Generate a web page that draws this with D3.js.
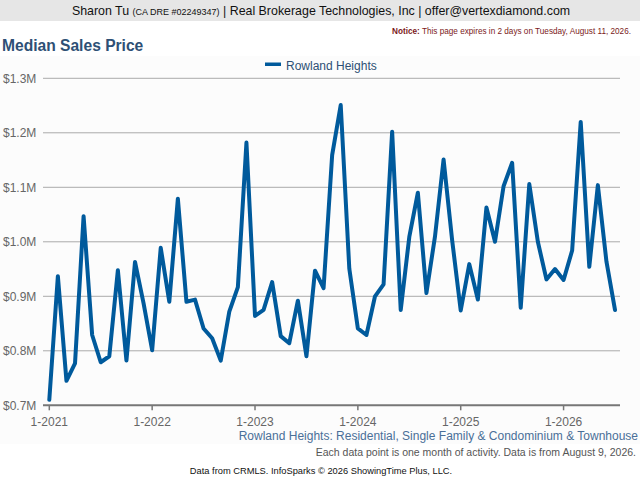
<!DOCTYPE html>
<html>
<head>
<meta charset="utf-8">
<script src="https://d3js.org/d3.v7.min.js"></script>
<style>
  body { margin: 0; background: #fff; }
  svg text { font-family: "Liberation Sans", Arial, sans-serif; }
  .ytick text { fill: #666; font-size: 12px; }
  .xtick text { fill: #666; font-size: 12px; }
</style>
</head>
<body>
<script>
// data: monthly median sales price ($M), 1-2021 .. 7-2026
const startYear = 2021;
const prices = [
  0.710, 0.937, 0.745, 0.777, 1.047, 0.829, 0.779, 0.790, 0.948, 0.782, 0.963, 0.887,
  0.801, 0.989, 0.890, 1.079, 0.890, 0.894, 0.841, 0.823, 0.782, 0.872, 0.917, 1.182,
  0.864, 0.875, 0.926, 0.827, 0.814, 0.892, 0.790, 0.947, 0.915, 1.159, 1.251, 0.951,
  0.841, 0.829, 0.900, 0.922, 1.202, 0.875, 1.009, 1.090, 0.906, 1.010, 1.151, 1.003,
  0.874, 0.959, 0.894, 1.063, 1.000, 1.102, 1.145, 0.879, 1.106, 1.000, 0.931, 0.950,
  0.930, 0.984, 1.220, 0.954, 1.104, 0.964, 0.875
];
const yTicks = [0.7, 0.8, 0.9, 1.0, 1.1, 1.2, 1.3];
const xTickLabels = ["1-2021", "1-2022", "1-2023", "1-2024", "1-2025", "1-2026"];
const seriesName = "Rowland Heights";

const W = 640, H = 480;
const svg = d3.select("body").append("svg").attr("width", W).attr("height", H);

// header bar
svg.append("rect").attr("width", W).attr("height", 21).attr("fill", "#e6e6e6");
const hdr = svg.append("text").attr("x", 321).attr("y", 15).attr("text-anchor", "middle")
  .attr("fill", "#111").style("font-size", "12.4px");
hdr.append("tspan").text("Sharon Tu ");
hdr.append("tspan").style("font-size", "9px").text("(CA DRE #02249347)");
hdr.append("tspan").text(" | Real Brokerage Technologies, Inc | offer@vertexdiamond.com");

// notice
const note = svg.append("text").attr("x", 631).attr("y", 34).attr("text-anchor", "end")
  .attr("fill", "#7b1a1a").style("font-size", "8.2px");
note.append("tspan").style("font-weight", "bold").text("Notice:");
note.append("tspan").text(" This page expires in 2 days on Tuesday, August 11, 2026.");

// title
svg.append("text").attr("x", 2).attr("y", 51).text("Median Sales Price")
  .attr("fill", "#2e5075").style("font-size", "15.6px").style("font-weight", "bold");

// chart background
svg.append("rect").attr("x", 0).attr("y", 56).attr("width", W).attr("height", 388).attr("fill", "#fcfcfc");

// scales
const x = d3.scaleLinear().domain([0, 66]).range([49.3, 615]);
const y = d3.scaleLinear().domain([0.7, 1.3]).range([405.3, 78.3]);

// grid + y labels
const yg = svg.append("g").attr("class", "ytick");
yg.selectAll("line").data(yTicks.slice(1)).join("line")
  .attr("x1", 43).attr("x2", 620).attr("y1", d => y(d)).attr("y2", d => y(d))
  .attr("stroke", "#aaa").attr("stroke-width", 1);
yg.selectAll("text").data(yTicks).join("text")
  .attr("x", 3).attr("y", d => y(d) + 4.5)
  .text(d => "$" + d.toFixed(1) + "M");

// x axis
svg.append("line").attr("x1", 43).attr("x2", 620).attr("y1", y(0.7)).attr("y2", y(0.7))
  .attr("stroke", "#777").attr("stroke-width", 2);
const xg = svg.append("g").attr("class", "xtick");
xg.selectAll("line").data(xTickLabels).join("line")
  .attr("x1", (d, i) => x(i * 12)).attr("x2", (d, i) => x(i * 12))
  .attr("y1", y(0.7)).attr("y2", y(0.7) + 5).attr("stroke", "#777").attr("stroke-width", 1.5);
xg.selectAll("text").data(xTickLabels).join("text")
  .attr("x", (d, i) => x(i * 12)).attr("y", 426).attr("text-anchor", "middle").text(d => d);

// line
const line = d3.line().x((d, i) => x(i)).y(d => y(d));
svg.append("path").datum(prices).attr("d", line)
  .attr("fill", "none").attr("stroke", "#005a9c").attr("stroke-width", 4)
  .attr("stroke-linejoin", "round").attr("stroke-linecap", "round");

// legend
svg.append("rect").attr("x", 265).attr("y", 62.5).attr("width", 16).attr("height", 3.5).attr("fill", "#005a9c");
svg.append("text").attr("x", 286).attr("y", 70).text(seriesName)
  .attr("fill", "#2e5075").style("font-size", "12px");

// footer
svg.append("text").attr("x", 638).attr("y", 440).attr("text-anchor", "end")
  .attr("fill", "#4a6f98").style("font-size", "12px")
  .text(seriesName + ": Residential, Single Family & Condominium & Townhouse");
svg.append("text").attr("x", 636).attr("y", 456).attr("text-anchor", "end")
  .attr("fill", "#555").style("font-size", "10.5px")
  .text("Each data point is one month of activity. Data is from August 9, 2026.");
svg.append("text").attr("x", 321).attr("y", 474).attr("text-anchor", "middle")
  .attr("fill", "#111").style("font-size", "9.3px")
  .text("Data from CRMLS. InfoSparks \u00a9 2026 ShowingTime Plus, LLC.");
</script>
</body>
</html>
